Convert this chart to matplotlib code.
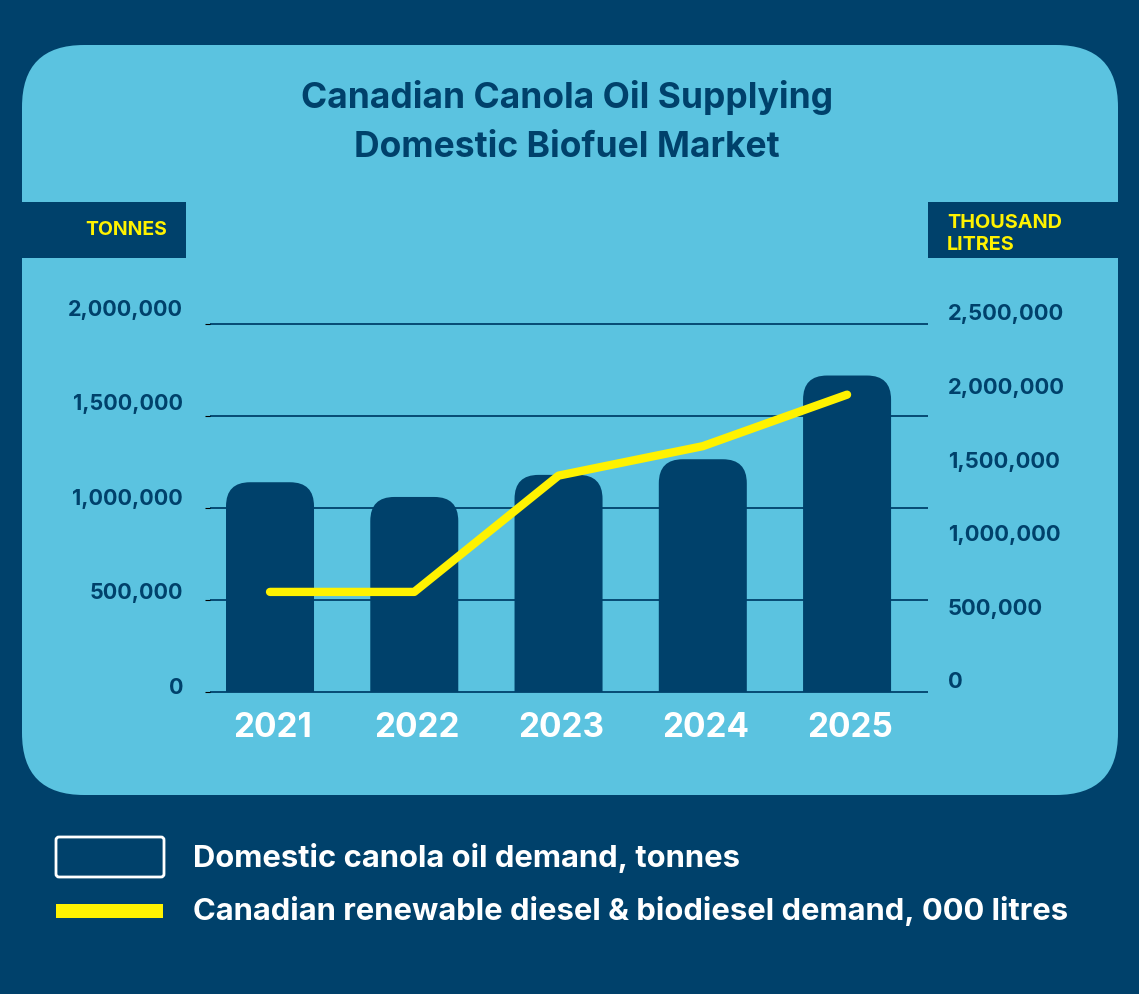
import matplotlib
matplotlib.use("Agg")
import matplotlib.pyplot as plt
import matplotlib.transforms as mtransforms
from matplotlib.patches import FancyBboxPatch, Rectangle

# ── data ─────────────────────────────────────────────────────────────────────
years = ["2021", "2022", "2023", "2024", "2025"]
canola_tonnes = [1140000, 1060000, 1180000, 1265000, 1720000]
diesel_kl = [680000, 680000, 1470000, 1670000, 2020000]

left_ticks = [0, 500000, 1000000, 1500000, 2000000]
right_ticks = [0, 500000, 1000000, 1500000, 2000000, 2500000]

title = "Canadian Canola Oil Supplying\nDomestic Biofuel Market"
legend_bar = "Domestic canola oil demand, tonnes"
legend_line = "Canadian renewable diesel & biodiesel demand, 000 litres"

NAVY = "#00416b"
SKY = "#5bc3e0"
YELLOW = "#fff200"
FONT = "Inter"

W, H = 1139, 994
fig = plt.figure(figsize=(W / 100, H / 100), dpi=100, facecolor=NAVY)

# ── background layer in pixel coords ─────────────────────────────────────────
bg = fig.add_axes([0, 0, 1, 1])
bg.set_xlim(0, W)
bg.set_ylim(H, 0)
bg.axis("off")
bg.add_patch(FancyBboxPatch((22, 45), 1096, 750,
                            boxstyle="round,pad=0,rounding_size=62",
                            fc=SKY, ec="none"))
bg.add_patch(Rectangle((22, 202), 164, 56, fc=NAVY, ec="none"))
bg.add_patch(Rectangle((928, 202), 190, 56, fc=NAVY, ec="none"))
bg.text(167, 230, "TONNES", color=YELLOW, fontsize=14, fontweight="bold",
        family=FONT, ha="right", va="center")
bg.text(947, 234, "THOUSAND\nLITRES", color=YELLOW, fontsize=14.3,
        fontweight="bold", family=FONT, ha="left", va="center",
        linespacing=1.25)
bg.text(567, 122, title, color=NAVY, fontsize=25.5, fontweight="bold",
        family=FONT, ha="center", va="center", linespacing=1.6)

# legend
bg.add_patch(FancyBboxPatch((56, 837), 108, 40,
                            boxstyle="round,pad=0,rounding_size=3",
                            fc="none", ec="white", lw=2))
bg.add_patch(Rectangle((56, 904), 107, 14, fc=YELLOW, ec="none"))
bg.text(193, 858, legend_bar, color="white", fontsize=22.3, fontweight="bold",
        family=FONT, ha="left", va="center")
bg.text(193, 911, legend_line, color="white", fontsize=22.3, fontweight="bold",
        family=FONT, ha="left", va="center")

# ── chart axes ───────────────────────────────────────────────────────────────
pad_v = 50000                      # little room so the top gridline isn't clipped
px_per_unit = 368 / 2000000
ax_top = 324 - pad_v * px_per_unit
ax_bot = 692 + pad_v * px_per_unit
ax = fig.add_axes([210 / W, (H - ax_bot) / H, 718 / W, (ax_bot - ax_top) / H])
ax.patch.set_alpha(0)
ax.set_xlim(-0.416, 4.561)
ax.set_ylim(-pad_v, 2000000 + pad_v)
for s in ax.spines.values():
    s.set_visible(False)
ax.set_yticks(left_ticks)
ax.set_xticks([])
ax.tick_params(left=False, labelleft=False)
ax.grid(axis="y", color=NAVY, lw=1.3)
ax.set_axisbelow(True)

# rounded bars, bottom corners cut off at zero
x = list(range(len(years)))
bw = 88 / 144.25
r_px = 24
r_x = r_px / 144.25
r_y = r_px / px_per_unit
aspect = (1 / px_per_unit) * 144.25
floor = Rectangle((-1, 0), 10, 5000000, transform=ax.transData)
for xi, h in zip(x, canola_tonnes):
    p = FancyBboxPatch((xi - bw / 2, -r_y), bw, h + r_y,
                       boxstyle=f"round,pad=0,rounding_size={r_x}",
                       mutation_aspect=aspect, fc=NAVY, ec="none", zorder=2)
    ax.add_patch(p)
    p.set_clip_path(floor)

# tick labels (the left labels drift a little further above their lines going up)
tr_l = mtransforms.blended_transform_factory(ax.transAxes, ax.transData)
for v in left_ticks:
    off = mtransforms.ScaledTranslation(0, (4 + 10.5 * v / 2000000) / 100,
                                        fig.dpi_scale_trans)
    ax.text(-0.0376, v, f"{v:,}", transform=tr_l + off, color=NAVY,
            fontsize=15.5, fontweight="bold", family=FONT, ha="right",
            va="center", clip_on=False)

off_x = mtransforms.ScaledTranslation(3 / 100, -36 / 100, fig.dpi_scale_trans)
tr_x = ax.transData + off_x
for xi, lab in zip(x, years):
    ax.text(xi, 0, lab, transform=tr_x, color="white", fontsize=24,
            fontweight="bold", family=FONT, ha="center", va="center",
            clip_on=False)

# line on secondary axis
ax2 = ax.twinx()
ax2.set_ylim(-pad_v * 1.25, (2000000 + pad_v) * 1.25)
for s in ax2.spines.values():
    s.set_visible(False)
ax2.set_yticks([])
ax2.plot(x, diesel_kl, color=YELLOW, lw=6, solid_capstyle="round",
         solid_joinstyle="round", zorder=3)

off_r = mtransforms.ScaledTranslation(0, 9.5 / 100, fig.dpi_scale_trans)
tr_r = mtransforms.blended_transform_factory(ax2.transAxes, ax2.transData) + off_r
for v in right_ticks:
    ax2.text(1.0279, v, f"{v:,}", transform=tr_r, color=NAVY, fontsize=15.8,
             fontweight="bold", family=FONT, ha="left", va="center",
             clip_on=False)

fig.savefig("out.png", dpi=100, facecolor=NAVY)
